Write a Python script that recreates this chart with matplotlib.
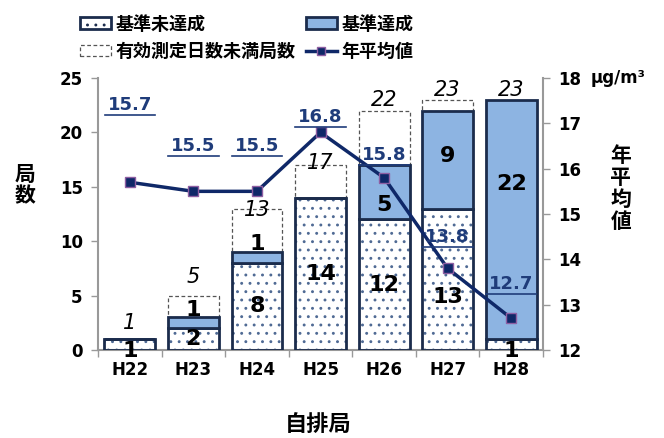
import matplotlib
matplotlib.use("Agg")
import matplotlib.pyplot as plt
from matplotlib.patches import Patch
from matplotlib.lines import Line2D
import numpy as np

plt.rcParams['font.family'] = ['Noto Sans CJK JP', 'DejaVu Sans']
plt.rcParams['hatch.linewidth'] = 0.9

# Data
years = ["H22", "H23", "H24", "H25", "H26", "H27", "H28"]
not_met = [1, 2, 8, 14, 12, 13, 1]          # 基準未達成
met = [0, 1, 1, 0, 5, 9, 22]                 # 基準達成
total = [1, 5, 13, 17, 22, 23, 23]           # 全局数（有効測定日数未満を含む）
annual_mean = [15.7, 15.5, 15.5, 16.8, 15.8, 13.8, 12.7]  # 年平均値 (μg/m³)

short_days = [t - a - b for t, a, b in zip(total, not_met, met)]

# Colours
NAVY = "#1B2C4C"
BLUE = "#8DB4E2"
LINE = "#0F2868"
DOT = "#4F6A94"
LBL = "#1F3C7A"

fig = plt.figure(figsize=(6.64, 4.38), dpi=100)
ax = fig.add_axes([0.1476, 0.2009, 0.6702, 0.6210])
ax2 = ax.twinx()

x = np.arange(len(years))
w = 0.8
nm = np.array(not_met, float)
mt = np.array(met, float)
sd = np.array(short_days, float)

# 基準未達成: dotted fill, then bold outline
ax.bar(x, nm, w, color="white", edgecolor=DOT, hatch="..", linewidth=0, zorder=2)
ax.bar(x, nm, w, color="none", edgecolor=NAVY, linewidth=2.0, zorder=3)
# 基準達成
ax.bar(x, mt, w, bottom=nm, color=BLUE, edgecolor=NAVY, linewidth=2.0, zorder=3)
# 有効測定日数未満局数
for xi, b, h in zip(x, nm + mt, sd):
    if h > 0:
        ax.bar(xi, h, w, bottom=b, color="white", edgecolor="#555555",
               linewidth=0.9, linestyle=(0, (3, 2)), zorder=2)

# segment labels
nm_off = [0.0, 0.0, 0.0, 0.0, 0.0, -1.6, -0.5]
for xi, v, off in zip(x, not_met, nm_off):
    y = v / 2 + off if v > 1 else -0.1
    ax.text(xi, y, str(v), ha="center", va="center", fontsize=16,
            fontweight="bold", color="black", zorder=6, family="DejaVu Sans")
mt_off = [0, 1.2, 1.2, 0, -1.2, 0.3, 3.3]
for xi, b, v, off in zip(x, nm, met, mt_off):
    if v > 0:
        ax.text(xi, b + v / 2 + off, str(v), ha="center", va="center",
                fontsize=16, fontweight="bold", color="black", zorder=6,
                family="DejaVu Sans")
tot_off = [1.5, 1.7, -0.1, 0.2, 1.0, 0.9, 0.9]
for xi, t, off in zip(x, total, tot_off):
    ax.text(xi, t + off, str(t), ha="center", va="center", fontsize=15,
            style="italic", color="black", zorder=6, family="DejaVu Sans")

ax.set_xlim(-0.5, 6.5)
ax.set_ylim(0, 25)
ax.set_yticks(range(0, 26, 5))
ax.set_xticks(x)
ax.set_xticklabels(years)
ax.set_xticks(np.arange(-0.5, 7, 1), minor=True)
ax.tick_params(axis="x", which="major", length=0, pad=8)
ax.tick_params(axis="x", which="minor", length=5, color="#999999", width=1)
ax.tick_params(axis="y", length=5, color="#999999", width=1, pad=6)
for lab in ax.get_xticklabels() + ax.get_yticklabels():
    lab.set_fontweight("bold")
    lab.set_fontsize(12)
    lab.set_family("DejaVu Sans")
for s in ["top", "right"]:
    ax.spines[s].set_visible(False)
for s in ["left", "bottom"]:
    ax.spines[s].set_color("#999999")
    ax.spines[s].set_linewidth(1.5)

# 年平均値 line
ax2.plot(x, annual_mean, color=LINE, linewidth=2.5, marker="s", markersize=7,
         markerfacecolor=LINE, markeredgecolor="#8E5EA2", markeredgewidth=1,
         zorder=5)
ax2.set_ylim(12, 18)
ax2.set_yticks(range(12, 19))
ax2.tick_params(axis="y", length=5, color="#999999", width=1, pad=6)
for lab in ax2.get_yticklabels():
    lab.set_fontweight("bold")
    lab.set_fontsize(12)
    lab.set_family("DejaVu Sans")
for s in ["top", "left", "bottom"]:
    ax2.spines[s].set_visible(False)
ax2.spines["right"].set_color("#999999")
ax2.spines["right"].set_linewidth(1.5)
ax2.set_zorder(ax.get_zorder() + 1)
ax2.patch.set_visible(False)

lbl_off = [1.7, 1.0, 1.0, 0.35, 0.5, 0.7, 0.75]
mean_texts = []
for xi, v, off in zip(x, annual_mean, lbl_off):
    t = ax2.text(xi, v + off, f"{v:.1f}", ha="center", va="center",
                 fontsize=13, fontweight="bold", color=LBL, zorder=7,
                 family="DejaVu Sans")
    mean_texts.append(t)

# axis titles
fig.text(0.038, 0.578, "局\n数", ha="center", va="center", fontsize=15,
         fontweight="bold", linespacing=1.0)
fig.text(0.935, 0.570, "年\n平\n均\n値", ha="center", va="center",
         fontsize=15, fontweight="bold", linespacing=1.05)
fig.text(0.889, 0.822, "μg/m³", ha="left", va="center", fontsize=12,
         fontweight="bold", family="DejaVu Sans")
fig.text(0.479, 0.030, "自排局", ha="center", va="center", fontsize=16,
         fontweight="bold")

# legend
handles = [
    Patch(facecolor="white", edgecolor=NAVY, hatch="..", linewidth=2.0),
    Patch(facecolor="white", edgecolor="#555555", linestyle=(0, (3, 2)), linewidth=0.9),
    Patch(facecolor=BLUE, edgecolor=NAVY, linewidth=2.0),
    Line2D([0], [0], color=LINE, linewidth=2.5, marker="s", markersize=6,
           markerfacecolor=LINE, markeredgecolor="#8E5EA2"),
]
labels = ["基準未達成", "有効測定日数未満局数", "基準達成", "年平均値"]
leg = fig.legend(handles, labels, ncol=2, loc="upper left",
                 bbox_to_anchor=(0.115, 0.975), frameon=False,
                 borderaxespad=0, borderpad=0.2,
                 prop={"size": 13, "weight": "bold"},
                 handlelength=1.7, handleheight=0.6, handletextpad=0.25,
                 columnspacing=0.6, labelspacing=0.45)

# underline the mean labels
fig.canvas.draw()
r = fig.canvas.get_renderer()
inv = fig.transFigure.inverted()
for t in mean_texts:
    bb = t.get_window_extent(renderer=r)
    (x0, y0), (x1, _) = inv.transform([(bb.x0 - 3, bb.y0 - 1), (bb.x1 + 3, bb.y0)])
    fig.add_artist(Line2D([x0, x1], [y0, y0], transform=fig.transFigure,
                          color=LBL, linewidth=1.2))

fig.savefig("out.png", dpi=100)
